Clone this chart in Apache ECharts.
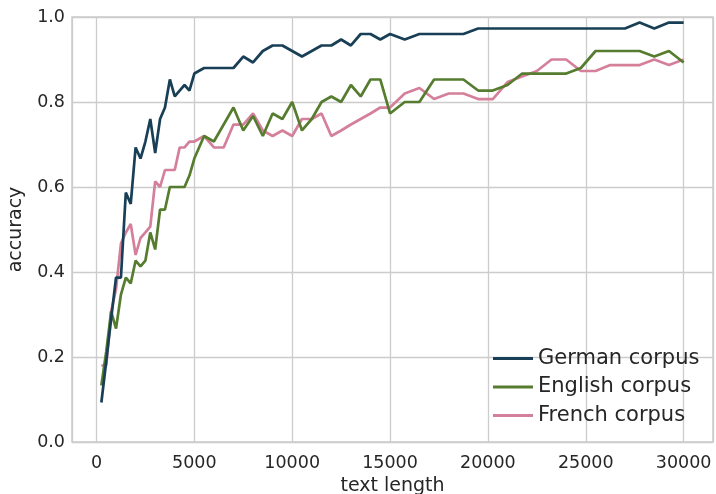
<!DOCTYPE html>
<html>
<head>
<meta charset="utf-8">
<script src="https://cdn.jsdelivr.net/npm/echarts@6/dist/echarts.min.js"></script>
<style>html,body{margin:0;padding:0;background:#fff;}#c{width:716px;height:494px;}</style>
</head>
<body>
<div id="c"></div>
<script>
const textLengths = [250,500,750,1000,1250,1500,1750,2000,2250,2500,2750,3000,3250,3500,3750,4000,4250,4500,4750,5000,
  5500,6000,6500,7000,7500,8000,8500,9000,9500,10000,10500,11000,11500,12000,12500,13000,13500,14000,14500,15000,
  15750,16500,17250,18000,18750,19500,20250,21000,21750,22500,23250,24000,24750,25500,26250,27000,27750,28500,29250,30000];
const germanAcc = [0.093,0.19,0.29,0.387,0.387,0.587,0.56,0.693,0.667,0.707,0.76,0.68,0.76,0.787,0.853,0.813,0.827,0.84,0.827,0.867,
  0.88,0.88,0.88,0.88,0.907,0.893,0.92,0.933,0.933,0.92,0.907,0.92,0.933,0.933,0.947,0.933,0.96,0.96,0.947,0.96,
  0.947,0.96,0.96,0.96,0.96,0.973,0.973,0.973,0.973,0.973,0.973,0.973,0.973,0.973,0.973,0.973,0.987,0.973,0.987,0.987];
const englishAcc = [0.133,0.213,0.307,0.267,0.347,0.387,0.373,0.427,0.413,0.427,0.493,0.453,0.547,0.547,0.6,0.6,0.6,0.6,0.627,0.667,
  0.72,0.707,0.747,0.787,0.733,0.767,0.72,0.773,0.76,0.8,0.733,0.76,0.8,0.813,0.8,0.84,0.813,0.853,0.853,0.773,
  0.8,0.8,0.853,0.853,0.853,0.827,0.827,0.84,0.867,0.867,0.867,0.867,0.88,0.92,0.92,0.92,0.92,0.907,0.92,0.893];
const frenchAcc = [0.18,0.18,0.307,0.36,0.467,0.493,0.513,0.44,0.48,0.493,0.507,0.613,0.6,0.64,0.64,0.64,0.693,0.693,0.707,0.707,
  0.72,0.693,0.693,0.747,0.747,0.773,0.733,0.72,0.733,0.72,0.76,0.76,0.773,0.72,0.733,0.747,0.76,0.773,0.787,0.787,
  0.82,0.833,0.807,0.82,0.82,0.807,0.807,0.847,0.86,0.873,0.9,0.9,0.873,0.873,0.887,0.887,0.887,0.9,0.887,0.9];
const seriesNames = ['German corpus','English corpus','French corpus'];
const xTicks = [0,5000,10000,15000,20000,25000,30000];
const yTicks = [0.0,0.2,0.4,0.6,0.8,1.0];

const colors = ['#183f55','#567c2f','#d5809a'];
const font = 'DejaVu Sans';
const pairs = arr => textLengths.map((x,i)=>[x, arr[i]]);
const chart = echarts.init(document.getElementById('c'), null, {renderer:'canvas'});
chart.setOption({
  animation:false,
  backgroundColor:'#ffffff',
  grid:{left:72,right:3,top:17,bottom:52,containLabel:false,outerBoundsMode:'none',
    show:true,borderColor:'#cccccc',borderWidth:1.5,backgroundColor:'transparent'},
  xAxis:{type:'value',min:-1250,max:31500,
    name:'text length',nameLocation:'middle',nameGap:30,
    nameTextStyle:{fontFamily:font,fontSize:19,color:'#262626'},
    axisLine:{show:false},axisTick:{show:false},
    axisLabel:{margin:12,fontFamily:font,fontSize:17.5,color:'#262626',showMinLabel:false,showMaxLabel:false,
      formatter:v=> xTicks.includes(v)? String(v):''},
    splitLine:{show:true,lineStyle:{color:'#cccccc',width:1.3}}},
  yAxis:{type:'value',min:0,max:1,interval:0.2,
    name:'accuracy',nameLocation:'middle',nameGap:46,
    nameTextStyle:{fontFamily:font,fontSize:19,color:'#262626'},
    axisLine:{show:false},axisTick:{show:false},
    axisLabel:{margin:7,fontFamily:font,fontSize:17.5,color:'#262626',formatter:v=>v.toFixed(1)},
    splitLine:{show:true,lineStyle:{color:'#cccccc',width:1.3}}},
  legend:{orient:'vertical',left:493,top:347,padding:0,itemWidth:40,itemHeight:3,itemGap:5.5,icon:'rect',
    textStyle:{fontFamily:font,fontSize:21,color:'#262626',lineHeight:23},
    data:seriesNames},
  series:[germanAcc,englishAcc,frenchAcc].map((arr,i)=>({
    name:seriesNames[i],type:'line',data:pairs(arr),symbol:'none',showSymbol:false,
    lineStyle:{width:2.7,color:colors[i]},itemStyle:{color:colors[i]},z:3-i
  }))
});
</script>
</body>
</html>
